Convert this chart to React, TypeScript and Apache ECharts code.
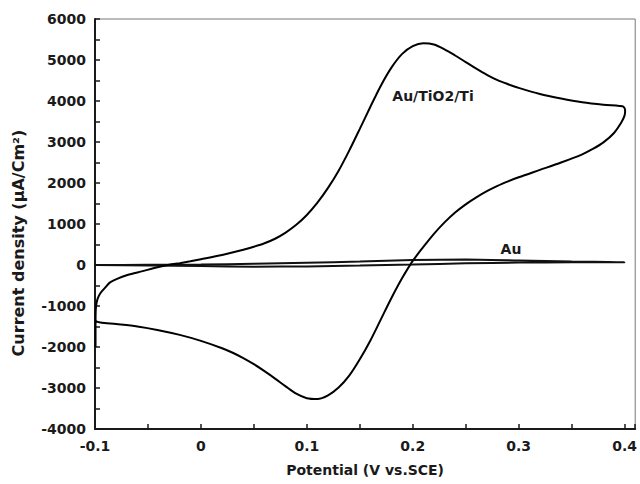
import React, { useEffect, useRef } from "react";
import * as echarts from "echarts";

// Au/TiO2/Ti cyclic voltammogram (potential V, current density µA/cm²), in scan order
const tiO2X = [
  -0.0995, -0.0995, -0.099, -0.0975, -0.0948, -0.09, -0.0854, -0.0694, -0.055, -0.044,
  -0.03, -0.02, -0.01, 0.0, 0.02, 0.04, 0.05, 0.06, 0.07, 0.08, 0.09,
  0.1, 0.11, 0.12, 0.13, 0.14, 0.15, 0.16, 0.17, 0.18, 0.19,
  0.2, 0.21, 0.22, 0.23, 0.24, 0.25, 0.26, 0.27, 0.28, 0.29,
  0.3, 0.32, 0.34, 0.36, 0.38, 0.395, 0.399, 0.4005, 0.4, 0.397,
  0.39, 0.38, 0.37, 0.36, 0.34, 0.32, 0.3, 0.29, 0.28, 0.27,
  0.26, 0.25, 0.24, 0.23, 0.22, 0.21, 0.2, 0.19, 0.18, 0.17,
  0.16, 0.15, 0.14, 0.13, 0.12, 0.11, 0.1, 0.09, 0.08, 0.07,
  0.06, 0.05, 0.04, 0.03, 0.02, 0.0, -0.02, -0.04, -0.06, -0.08,
  -0.095, -0.099, -0.0995,
];
const tiO2Y = [
  -2000, -1300, -1000, -820, -683, -540, -415, -244, -150, -73,
  5, 45, 90, 140, 245, 370, 445, 530, 640, 790, 980,
  1220, 1520, 1880, 2300, 2790, 3320, 3860, 4380, 4820, 5150,
  5340, 5410, 5380, 5260, 5110, 4950, 4790, 4640, 4510, 4410,
  4320, 4170, 4060, 3970, 3910, 3880, 3860, 3770, 3650, 3480,
  3220, 2990, 2830, 2700, 2500, 2320, 2140, 2040, 1930, 1800,
  1650, 1480, 1280, 1040, 760, 440, 100, -320, -800, -1320,
  -1840, -2300, -2700, -2990, -3180, -3270, -3250, -3140, -2960, -2770,
  -2590, -2420, -2270, -2140, -2030, -1850, -1705, -1590, -1500, -1440,
  -1400, -1370, -1300,
];

// Au cyclic voltammogram
const auX = [
  -0.1, -0.05, 0.0, 0.05, 0.1, 0.15, 0.2, 0.25, 0.3, 0.35, 0.4,
  0.4, 0.35, 0.3, 0.25, 0.2, 0.15, 0.1, 0.05, 0.0, -0.05, -0.1,
];
const auY = [
  0, 5, 10, 30, 55, 85, 120, 135, 110, 85, 70,
  65, 65, 60, 40, 10, -15, -35, -40, -25, -10, 0,
];

const seriesNames = ["Au/TiO2/Ti", "Au"];
const xTitle = "Potential (V vs.SCE)";
const yTitle = "Current density (μA/Cm²)";

const FONT = "DejaVu Sans";

export default function App() {
  const ref = useRef<HTMLDivElement>(null);

  useEffect(() => {
    if (!ref.current) return;
    const chart = echarts.init(ref.current, undefined, { renderer: "svg" });
    const tiData = tiO2X.map((x, i) => [x, tiO2Y[i]]);
    const auData = auX.map((x, i) => [x, auY[i]]);

    chart.setOption({
      animation: false,
      backgroundColor: "#ffffff",
      grid: {
        left: 95,
        right: 3,
        top: 19,
        bottom: 55,
        show: true,
        borderColor: "#777777",
        borderWidth: 1,
        backgroundColor: "transparent",
      },
      xAxis: {
        type: "value",
        min: -0.1,
        max: 0.41,
        interval: 0.05,
        name: xTitle,
        nameLocation: "middle",
        nameGap: 34,
        nameTextStyle: { fontFamily: FONT, fontWeight: "bold", fontSize: 14, color: "#1a1a1a" },
        axisLine: { onZero: false, lineStyle: { color: "#1a1a1a", width: 2 } },
        axisTick: { inside: true, length: 5, lineStyle: { color: "#1a1a1a", width: 1.5 } },
        splitLine: { show: false },
        axisLabel: {
          margin: 10,
          fontFamily: FONT,
          fontWeight: "bold",
          fontSize: 14,
          color: "#1a1a1a",
          formatter: (v: number) => {
            const t = v * 10;
            if (Math.abs(t - Math.round(t)) < 1e-6 && v <= 0.4 + 1e-9) {
              const r = Math.round(t) / 10;
              return r === 0 ? "0" : String(r);
            }
            return "";
          },
        },
      },
      yAxis: {
        type: "value",
        min: -4000,
        max: 6000,
        interval: 500,
        axisLine: { onZero: false, lineStyle: { color: "#1a1a1a", width: 2 } },
        axisTick: { inside: true, length: 5, lineStyle: { color: "#1a1a1a", width: 1.5 } },
        splitLine: { show: false },
        axisLabel: {
          margin: 9,
          fontFamily: FONT,
          fontWeight: "bold",
          fontSize: 14,
          color: "#1a1a1a",
          formatter: (v: number) => (Math.round(v) % 1000 === 0 ? String(Math.round(v)) : ""),
        },
      },
      graphic: [
        {
          type: "text",
          x: 18,
          y: 243,
          rotation: Math.PI / 2,
          style: {
            text: yTitle,
            fontFamily: FONT,
            fontWeight: "bold",
            fontSize: 16,
            fill: "#1a1a1a",
            textAlign: "center",
            textVerticalAlign: "middle",
          },
        },
        {
          type: "text",
          x: 433,
          y: 96,
          style: {
            text: seriesNames[0],
            fontFamily: FONT,
            fontWeight: "bold",
            fontSize: 14,
            fill: "#1a1a1a",
            textAlign: "center",
            textVerticalAlign: "middle",
          },
        },
        {
          type: "text",
          x: 511,
          y: 249,
          style: {
            text: seriesNames[1],
            fontFamily: FONT,
            fontWeight: "bold",
            fontSize: 14,
            fill: "#1a1a1a",
            textAlign: "center",
            textVerticalAlign: "middle",
          },
        },
      ],
      series: [
        {
          name: seriesNames[1],
          type: "line",
          data: auData,
          showSymbol: false,
          smooth: 0.2,
          lineStyle: { color: "#111111", width: 2 },
        },
        {
          name: seriesNames[0],
          type: "line",
          data: tiData,
          showSymbol: false,
          smooth: 0.3,
          lineStyle: { color: "#000000", width: 2 },
        },
      ],
    });

    return () => chart.dispose();
  }, []);

  return (
    <div
      ref={ref}
      style={{ position: "fixed", left: 0, top: 0, width: 640, height: 484, background: "#fff" }}
    />
  );
}
